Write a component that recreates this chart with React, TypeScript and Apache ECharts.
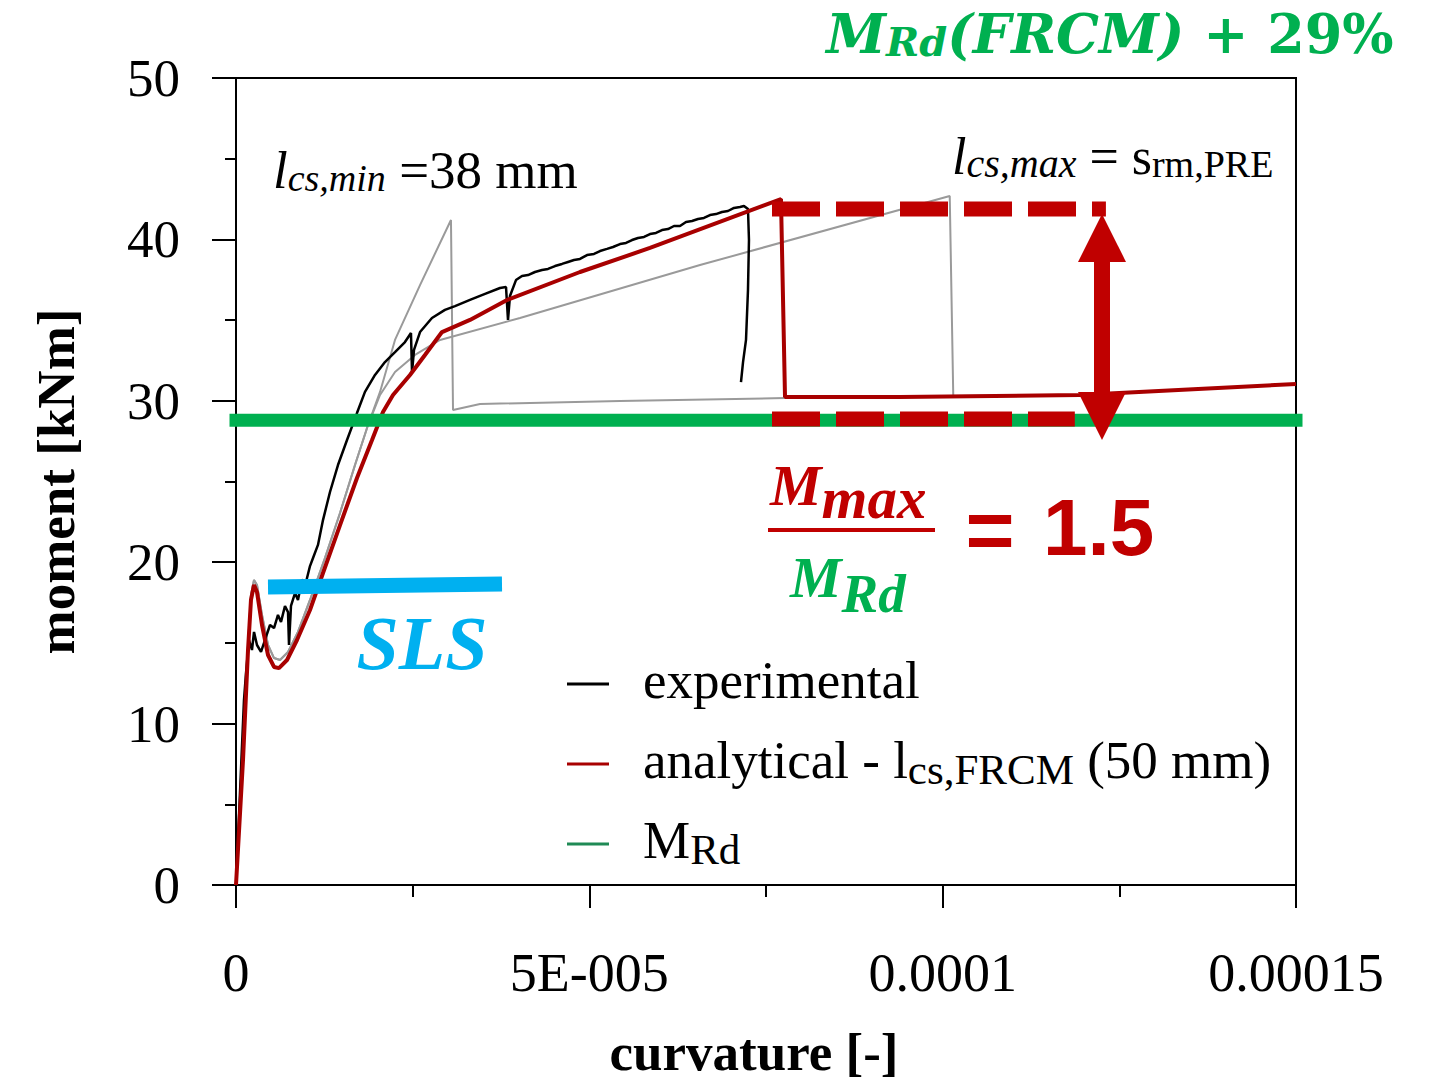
import React, { useEffect, useRef } from "react";
import * as echarts from "echarts";

// ---------- data ----------
const xTickLabels = ["0", "5E-005", "0.0001", "0.00015"];

const experimental: [number, number][] = [
  [0, 0], [0.113e-5, 11.46], [0.142e-5, 13.14], [0.184e-5, 15.18], [0.226e-5, 14.56],
  [0.255e-5, 15.68], [0.297e-5, 14.87], [0.354e-5, 14.44], [0.425e-5, 15.37], [0.481e-5, 16.11],
  [0.538e-5, 15.92], [0.594e-5, 16.73], [0.637e-5, 16.3], [0.693e-5, 17.29], [0.736e-5, 16.91],
  [0.75e-5, 14.87], [0.778e-5, 17.29], [0.835e-5, 18.09], [0.877e-5, 17.66], [0.934e-5, 18.9],
  [0.991e-5, 18.77], [1.047e-5, 19.76], [1.09e-5, 20.26], [1.16e-5, 21.07], [1.231e-5, 22.61],
  [1.33e-5, 24.35], [1.443e-5, 26.02], [1.571e-5, 27.57], [1.712e-5, 29.24], [1.825e-5, 30.55],
  [1.967e-5, 31.6], [2.108e-5, 32.4], [2.25e-5, 33.02], [2.391e-5, 33.64], [2.476e-5, 34.2],
  [2.491e-5, 31.78], [2.519e-5, 33.15], [2.604e-5, 34.26], [2.773e-5, 35.13], [2.957e-5, 35.63],
  [3.099e-5, 35.87], [3.311e-5, 36.25], [3.524e-5, 36.62], [3.736e-5, 36.99], [3.821e-5, 37.05],
  [3.849e-5, 35.01], [3.877e-5, 36.49], [3.962e-5, 37.48], [4.047e-5, 37.73], [4.132e-5, 37.79],
  [4.231e-5, 37.98], [4.33e-5, 38.1], [4.415e-5, 38.17], [4.514e-5, 38.35], [4.613e-5, 38.48],
  [4.698e-5, 38.6], [4.783e-5, 38.72], [4.868e-5, 38.79], [4.967e-5, 39.03], [5.066e-5, 39.1],
  [5.151e-5, 39.28], [5.25e-5, 39.41], [5.335e-5, 39.53], [5.434e-5, 39.71], [5.519e-5, 39.78],
  [5.604e-5, 39.96], [5.689e-5, 40.09], [5.774e-5, 40.15], [5.858e-5, 40.33], [5.943e-5, 40.4],
  [6.028e-5, 40.58], [6.113e-5, 40.64], [6.198e-5, 40.83], [6.283e-5, 40.83], [6.368e-5, 41.08],
  [6.453e-5, 41.14], [6.538e-5, 41.26], [6.622e-5, 41.33], [6.707e-5, 41.51], [6.792e-5, 41.57],
  [6.877e-5, 41.7], [6.962e-5, 41.76], [7.047e-5, 41.95], [7.132e-5, 42.01], [7.188e-5, 42.07],
  [7.245e-5, 41.88], [7.259e-5, 39.96], [7.245e-5, 36.86], [7.217e-5, 33.77], [7.175e-5, 32.4],
  [7.146e-5, 31.16],
];

const analytical: [number, number][] = [
  [0, 0], [0.099e-5, 7.74], [0.17e-5, 14.56], [0.212e-5, 17.66], [0.255e-5, 18.59],
  [0.297e-5, 18.15], [0.368e-5, 16.11], [0.453e-5, 14.25], [0.538e-5, 13.51], [0.608e-5, 13.44],
  [0.722e-5, 13.94], [0.863e-5, 15.18], [1.047e-5, 17.04], [1.231e-5, 19.33], [1.472e-5, 22.3],
  [1.712e-5, 25.22], [1.925e-5, 27.57], [2.08e-5, 29.31], [2.222e-5, 30.36], [2.462e-5, 31.6],
  [2.674e-5, 32.84], [2.915e-5, 34.26], [3.311e-5, 35.01], [3.835e-5, 36.25], [4.868e-5, 37.98],
  [5.858e-5, 39.47], [7.712e-5, 42.5], [7.769e-5, 30.24], [9.396e-5, 30.24], [11.94e-5, 30.36],
  [15.0e-5, 31.04],
];

const lcsMinCurve: [number, number][] = [
  [0, 0], [0.099e-5, 7.74], [0.17e-5, 14.87], [0.212e-5, 17.97], [0.255e-5, 18.9],
  [0.297e-5, 18.59], [0.368e-5, 16.73], [0.453e-5, 14.87], [0.538e-5, 14.06], [0.623e-5, 13.94],
  [0.736e-5, 14.44], [0.877e-5, 15.68], [1.047e-5, 17.66], [1.259e-5, 20.26], [1.472e-5, 23.05],
  [1.684e-5, 26.02], [1.868e-5, 28.5], [2.038e-5, 30.55], [2.25e-5, 33.77], [2.604e-5, 37.17],
  [3.042e-5, 41.2], [3.071e-5, 29.43], [3.453e-5, 29.8], [5.434e-5, 29.99], [7.769e-5, 30.17],
];

const lcsMaxCurve: [number, number][] = [
  [0, 0], [0.099e-5, 7.74], [0.17e-5, 14.87], [0.212e-5, 17.97], [0.255e-5, 18.9],
  [0.297e-5, 18.59], [0.368e-5, 16.73], [0.453e-5, 14.87], [0.538e-5, 14.06], [0.623e-5, 13.94],
  [0.736e-5, 14.44], [0.877e-5, 15.68], [1.047e-5, 17.66], [1.259e-5, 20.26], [1.472e-5, 23.05],
  [1.684e-5, 26.02], [1.868e-5, 28.5], [2.038e-5, 30.36], [2.25e-5, 31.78], [2.533e-5, 32.84],
  [2.887e-5, 33.77], [4.019e-5, 35.13], [6.566e-5, 38.41], [10.1e-5, 42.69], [10.15e-5, 30.3],
  [11.94e-5, 30.36], [15.0e-5, 31.04],
];

const mRdLevel = 28.8;
const mRdLine: [number, number][] = [[0, mRdLevel], [15.0e-5, mRdLevel]];
const slsLine: [number, number][] = [[0.453e-5, 18.46], [3.764e-5, 18.65]];
const dashTop: [number, number][] = [[7.585e-5, 41.88], [12.31e-5, 41.88]];
const dashBottom: [number, number][] = [[7.585e-5, 28.87], [11.87e-5, 28.87]];
const arrowX = 12.255e-5;
const arrowTop = 40.09;
const arrowBottom = 29.06;

// ---------- styles ----------
const SERIF = "'Liberation Serif', 'Times New Roman', serif";
const MATH = "'DejaVu Serif', 'Liberation Serif', serif";
const SANS = "'Liberation Sans', Arial, sans-serif";
const RED = "#c00000";
const CURVE_RED = "#a80000";
const GREEN = "#00b050";
const CYAN = "#00b0f0";
const GRAY = "#9a9a9a";

const tok = (size: number, pad: number, extra: any = {}) => ({
  fontFamily: SERIF,
  fontSize: size,
  padding: [0, 0, pad, 0],
  verticalAlign: "bottom",
  ...extra,
});

const option: any = {
  animation: false,
  backgroundColor: "#fff",
  grid: {
    left: 236, right: 139, top: 78, bottom: 198,
    outerBoundsMode: "none",
    containLabel: false,
    show: true, borderColor: "#000", borderWidth: 2, backgroundColor: "transparent",
  },
  xAxis: {
    type: "value",
    min: 0,
    max: 15e-5,
    interval: 5e-5,
    name: "curvature [-]",
    nameLocation: "middle",
    nameGap: 140,
    nameTextStyle: { fontFamily: SERIF, fontSize: 53, fontWeight: "bold", color: "#000", verticalAlign: "top", padding: [0, 24, 0, 0] },
    axisLine: { show: true, onZero: false, lineStyle: { color: "#000", width: 2 } },
    axisTick: { show: true, length: 23, lineStyle: { color: "#000", width: 2 } },
    minorTick: { show: true, splitNumber: 2, length: 12, lineStyle: { color: "#000", width: 2 } },
    splitLine: { show: false },
    axisLabel: {
      margin: 61,
      fontFamily: SERIF,
      fontSize: 54,
      color: "#000",
      formatter: (v: number) => xTickLabels[Math.round(v / 5e-5)] ?? "",
    },
  },
  yAxis: {
    type: "value",
    min: 0,
    max: 50,
    interval: 10,
    name: "moment [kNm]",
    nameLocation: "middle",
    nameGap: 154,
    nameTextStyle: { fontFamily: SERIF, fontSize: 53, fontWeight: "bold", color: "#000" },
    axisLine: { show: true, onZero: false, lineStyle: { color: "#000", width: 2 } },
    axisTick: { show: true, length: 24, lineStyle: { color: "#000", width: 2 } },
    minorTick: { show: true, splitNumber: 2, length: 11, lineStyle: { color: "#000", width: 2 } },
    splitLine: { show: false },
    axisLabel: { margin: 56, fontFamily: SERIF, fontSize: 53, color: "#000" },
  },
  legend: {
    orient: "vertical",
    left: 562,
    top: 648,
    icon: "rect",
    itemWidth: 42,
    itemHeight: 3,
    itemGap: 19,
    selectedMode: false,
    data: ["experimental", "analytical", "MRd"],
    formatter: (name: string) => {
      if (name === "experimental") return "{a0|experimental}";
      if (name === "analytical") return "{a0|analytical - l}{s|cs,FRCM}{a| (50 mm)}";
      return "{a0|M}{s|Rd}";
    },
    textStyle: {
      fontFamily: SERIF,
      fontSize: 53,
      color: "#000",
      lineHeight: 60,
      rich: {
        a0: tok(53, 8, { padding: [0, 0, 8, 29], lineHeight: 60, color: "#000" }),
        a: tok(53, 8, { lineHeight: 60, color: "#000" }),
        s: tok(43, 3, { lineHeight: 60, color: "#000" }),
      },
    },
  },
  series: [
    { name: "lcs,min", type: "line", data: lcsMinCurve, symbol: "none", silent: true, lineStyle: { color: GRAY, width: 2 }, itemStyle: { color: GRAY } },
    { name: "lcs,max", type: "line", data: lcsMaxCurve, symbol: "none", silent: true, lineStyle: { color: GRAY, width: 2 }, itemStyle: { color: GRAY } },
    { name: "experimental", type: "line", data: experimental, symbol: "none", silent: true, lineStyle: { color: "#000", width: 2.5 }, itemStyle: { color: "#000" } },
    { name: "analytical", type: "line", data: analytical, symbol: "none", silent: true, lineStyle: { color: CURVE_RED, width: 4 }, itemStyle: { color: CURVE_RED } },
    { name: "MRd", type: "line", data: mRdLine, symbol: "none", silent: true, lineStyle: { color: "#1f8a55", width: 2 }, itemStyle: { color: "#1f8a55" } },
    { name: "MRd (FRCM)", type: "line", data: mRdLine, symbol: "none", silent: true, clip: false, lineStyle: { color: GREEN, width: 13, cap: "square" }, itemStyle: { color: GREEN } },
    { name: "SLS", type: "line", data: slsLine, symbol: "none", silent: true, clip: false, lineStyle: { color: CYAN, width: 15, cap: "butt" }, itemStyle: { color: CYAN } },
    { name: "dashBottom", type: "line", data: dashBottom, symbol: "none", silent: true, lineStyle: { color: RED, width: 15, type: [48, 16], cap: "butt" }, itemStyle: { color: RED } },
    {
      name: "dashTop", type: "line", data: dashTop, symbol: "none", silent: true,
      lineStyle: { color: RED, width: 15, type: [48, 16], cap: "butt" }, itemStyle: { color: RED },
      markLine: {
        silent: true,
        symbol: ["triangle", "triangle"],
        symbolSize: [48, 48],
        label: { show: false },
        lineStyle: { color: RED, width: 16, type: "solid" },
        itemStyle: { color: RED },
        data: [[{ coord: [arrowX, arrowTop] }, { coord: [arrowX, arrowBottom] }]],
      },
    },
  ],
  graphic: [
    {
      type: "text", x: 273, y: 144, z: 100,
      style: {
        text: "{i|l}{si|cs,min}{r| =38 mm}",
        verticalAlign: "top",
        rich: {
          i: tok(53, 8, { fontStyle: "italic", lineHeight: 60, fill: "#000" }),
          si: tok(38, 7, { fontStyle: "italic", lineHeight: 60, fill: "#000" }),
          r: tok(53, 8, { lineHeight: 60, fill: "#000" }),
        },
      },
    },
    {
      type: "text", x: 952, y: 130, z: 100,
      style: {
        text: "{i|l}{si|cs,max}{r| = s}{s|rm,PRE}",
        verticalAlign: "top",
        rich: {
          i: tok(52, 8, { fontStyle: "italic", lineHeight: 60, fill: "#000" }),
          si: tok(40, 7, { fontStyle: "italic", lineHeight: 60, fill: "#000" }),
          r: tok(52, 8, { lineHeight: 60, fill: "#000" }),
          s: tok(38, 7, { lineHeight: 60, fill: "#000" }),
        },
      },
    },
    {
      type: "text", x: 1110, y: 5, z: 100,
      style: {
        text: "{m|M}{s|Rd}{m|(FRCM)}{n| + 29%}",
        align: "center",
        verticalAlign: "top",
        rich: {
          m: tok(54, 0, { fontFamily: MATH, fontStyle: "italic", fontWeight: "bold", lineHeight: 56, fill: GREEN }),
          s: tok(40, 0, { fontFamily: MATH, fontStyle: "italic", fontWeight: "bold", lineHeight: 56, fill: GREEN }),
          n: tok(54, 0, { fontFamily: MATH, fontWeight: "bold", lineHeight: 56, fill: GREEN }),
        },
      },
    },
    {
      type: "text", x: 422, y: 643, z: 100,
      style: { text: "SLS", align: "center", verticalAlign: "middle", fontFamily: SERIF, fontSize: 76, fontStyle: "italic", fontWeight: "bold", fill: CYAN },
    },
    {
      type: "text", x: 770, y: 456, z: 100,
      style: {
        text: "{m|M}{s|max}",
        verticalAlign: "top",
        rich: {
          m: tok(58, 14, { fontStyle: "italic", fontWeight: "bold", lineHeight: 72, fill: RED }),
          s: tok(59, 1, { fontStyle: "italic", fontWeight: "bold", lineHeight: 72, fill: RED }),
        },
      },
    },
    { type: "rect", z: 100, shape: { x: 768, y: 528, width: 167, height: 4 }, style: { fill: RED } },
    {
      type: "text", x: 790, y: 550, z: 100,
      style: {
        text: "{m|M}{s|Rd}",
        verticalAlign: "top",
        rich: {
          m: tok(58, 16, { fontStyle: "italic", fontWeight: "bold", lineHeight: 72, fill: GREEN }),
          s: tok(55, 1, { fontStyle: "italic", fontWeight: "bold", lineHeight: 72, fill: GREEN }),
        },
      },
    },
    {
      type: "text", x: 990, y: 530, z: 100,
      style: { text: "=", align: "center", verticalAlign: "middle", fontFamily: SANS, fontSize: 84, fontWeight: "bold", fill: RED },
    },
    {
      type: "text", x: 1043, y: 527, z: 100,
      style: { text: "1.5", align: "left", verticalAlign: "middle", fontFamily: SANS, fontSize: 80, fontWeight: "bold", fill: RED },
    },
  ],
};

export default function App() {
  const ref = useRef<HTMLDivElement>(null);
  useEffect(() => {
    if (!ref.current) return;
    const chart = echarts.init(ref.current, null, { renderer: "svg" });
    chart.setOption(option);
    return () => chart.dispose();
  }, []);
  return (
    <div
      ref={ref}
      style={{ position: "fixed", left: 0, top: 0, width: 1435, height: 1083, background: "#fff" }}
    />
  );
}
